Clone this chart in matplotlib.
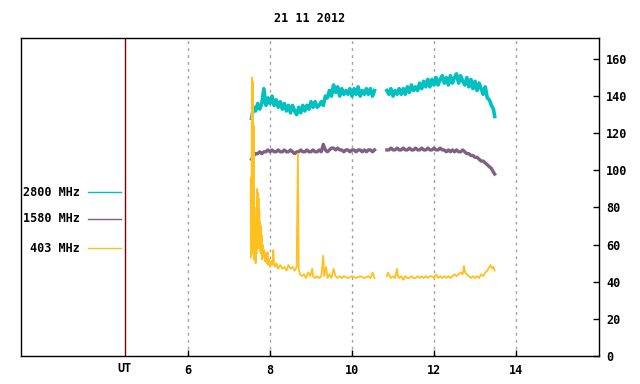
import matplotlib
matplotlib.use("Agg")
import matplotlib.pyplot as plt
from matplotlib.lines import Line2D

title = "21 11 2012"
labels = ["2800 MHz", "1580 MHz", "403 MHz"]
colors = ["#00c0c0", "#806080", "#ffc020"]
xticks = [6, 8, 10, 12, 14]
yticks = [0, 20, 40, 60, 80, 100, 120, 140, 160]

# time (UT hours), first and second block of the day
t_a = [7.55, 7.60, 7.65, 7.70, 7.75, 7.80, 7.85, 7.90, 7.95, 8.00,
       8.05, 8.10, 8.15, 8.20, 8.25, 8.30, 8.35, 8.40, 8.45, 8.50,
       8.55, 8.60, 8.65, 8.70, 8.75, 8.80, 8.85, 8.90, 8.95, 9.00,
       9.05, 9.10, 9.15, 9.20, 9.25, 9.30, 9.35, 9.40, 9.45, 9.50,
       9.55, 9.60, 9.65, 9.70, 9.75, 9.80, 9.85, 9.90, 9.95, 10.00,
       10.05, 10.10, 10.15, 10.20, 10.25, 10.30, 10.35, 10.40, 10.45, 10.50,
       10.55]
t_b = [10.85, 10.90, 10.95, 11.00, 11.05, 11.10, 11.15, 11.20, 11.25, 11.30,
       11.35, 11.40, 11.45, 11.50, 11.55, 11.60, 11.65, 11.70, 11.75, 11.80,
       11.85, 11.90, 11.95, 12.00, 12.05, 12.10, 12.15, 12.20, 12.25, 12.30,
       12.35, 12.40, 12.45, 12.50, 12.55, 12.60, 12.65, 12.70, 12.75, 12.80,
       12.85, 12.90, 12.95, 13.00, 13.05, 13.10, 13.15, 13.20, 13.25, 13.30,
       13.35, 13.40, 13.45, 13.48]

f2800_a = [128, 134, 132, 136, 133, 136, 144, 135, 139, 136,
           140, 135, 138, 134, 137, 133, 136, 132, 135, 131,
           135, 132, 130, 134, 131, 135, 132, 135, 133, 137,
           134, 137, 134, 135, 137, 135, 140, 139, 143, 140,
           146, 142, 145, 140, 144, 141, 143, 141, 144, 140,
           144, 141, 145, 140, 143, 141, 144, 141, 144, 140,
           143]
f2800_b = [143, 141, 144, 140, 143, 141, 144, 141, 144, 141,
           145, 142, 146, 143, 145, 143, 147, 144, 148, 145,
           149, 145, 149, 146, 150, 146, 149, 151, 147, 150,
           146, 151, 147, 150, 152, 147, 151, 148, 146, 150,
           145, 149, 144, 148, 143, 147, 144, 141, 145, 139,
           138, 135, 133, 129]

f1580_a = [106, 108, 109, 109, 110, 109, 110, 110, 111, 110,
           111, 110, 110, 111, 110, 110, 111, 110, 110, 111,
           110, 109, 110, 110, 111, 110, 110, 111, 110, 110,
           111, 110, 110, 111, 110, 114, 111, 110, 111, 112,
           112, 111, 112, 111, 111, 110, 111, 111, 110, 111,
           111, 110, 111, 111, 110, 111, 110, 111, 111, 110,
           111]
f1580_b = [111, 111, 112, 111, 111, 112, 111, 111, 112, 111,
           111, 112, 111, 111, 112, 111, 111, 112, 111, 111,
           112, 111, 111, 112, 111, 111, 112, 111, 111, 110,
           111, 110, 111, 110, 111, 110, 110, 111, 110, 109,
           109, 108, 108, 107, 107, 106, 105, 105, 104, 103,
           102, 101, 99, 98]

t403_a = [7.530, 7.535, 7.545, 7.560, 7.570, 7.580, 7.590, 7.600, 7.610, 7.620,
          7.630, 7.640, 7.650, 7.660, 7.670, 7.680, 7.690, 7.700, 7.710, 7.720,
          7.730, 7.740, 7.750, 7.760, 7.770, 7.780, 7.790, 7.800, 7.810, 7.820,
          7.84, 7.86, 7.88, 7.90, 7.92, 7.94, 7.96, 7.98, 8.00, 8.03,
          8.06, 8.08, 8.10, 8.13, 8.16, 8.20, 8.25, 8.30, 8.35, 8.40,
          8.45, 8.50, 8.55, 8.60, 8.65, 8.68, 8.70, 8.73, 8.78, 8.83,
          8.88, 8.93, 8.98, 9.03, 9.05, 9.10, 9.15, 9.20, 9.25, 9.30,
          9.32, 9.37, 9.40, 9.45, 9.50, 9.55, 9.60, 9.65, 9.70, 9.75,
          9.80, 9.90, 10.00, 10.10, 10.20, 10.30, 10.40, 10.45, 10.50, 10.55]
f403_a = [96, 53, 60, 150, 70, 148, 55, 124, 52, 80,
          58, 75, 50, 70, 55, 90, 60, 88, 58, 85,
          62, 78, 58, 72, 56, 70, 55, 65, 52, 60,
          53, 57, 51, 55, 50, 56, 49, 52, 48, 51,
          49, 57, 50, 48, 50, 47, 49, 47, 48, 46,
          49, 47, 48, 46, 48, 109, 47, 44, 43, 44,
          42, 45, 43, 47, 43, 42, 43, 42, 43, 54,
          43, 48, 42, 44, 42, 47, 43, 42, 43, 42,
          43, 42, 43, 42, 43, 42, 43, 42, 45, 42]
t403_b = [10.85, 10.88, 10.92, 10.95, 11.00, 11.05, 11.10, 11.12, 11.15, 11.20,
          11.25, 11.30, 11.35, 11.40, 11.45, 11.50, 11.55, 11.60, 11.65, 11.70,
          11.75, 11.80, 11.85, 11.90, 11.95, 12.00, 12.05, 12.10, 12.15, 12.20,
          12.25, 12.30, 12.35, 12.40, 12.45, 12.50, 12.55, 12.60, 12.65, 12.70,
          12.73, 12.76, 12.80, 12.85, 12.90, 12.95, 13.00, 13.05, 13.10, 13.15,
          13.20, 13.25, 13.30, 13.35, 13.38, 13.42, 13.45, 13.48]
f403_b = [43, 45, 43, 42, 43, 42, 47, 43, 42, 43,
          41, 43, 42, 42, 43, 42, 42, 43, 42, 43,
          42, 43, 42, 43, 43, 42, 44, 42, 43, 42,
          43, 42, 43, 42, 43, 44, 43, 44, 45, 44,
          48.5, 45, 44, 43, 42, 43, 42, 43, 42, 44,
          43, 45, 46, 48, 49, 47, 48, 46]

plt.rcParams['font.family'] = ['DejaVu Sans Mono']
plt.rcParams['font.weight'] = 'bold'
plt.rcParams['font.size'] = 8.5

W, H = 640, 384
fig = plt.figure(figsize=(W / 100, H / 100), dpi=100)
ax = fig.add_axes([20.5 / W, 28 / H, (599 - 20.5) / W, (356 - 38) / H])

# noisy data shows up as a band in the original, so thicker lines
widths = [2.6, 2.4, 1.3]
series = [(t_a, f2800_a, t_b, f2800_b), (t_a, f1580_a, t_b, f1580_b),
          (t403_a, f403_a, t403_b, f403_b)]
for (ta, ya, tb, yb), c, lw in zip(series, colors, widths):
    ax.plot(ta, ya, color=c, lw=lw, zorder=3)
    ax.plot(tb, yb, color=c, lw=lw, zorder=3)

ax.set_xlim(1.915, 16.024)
ax.set_ylim(0, 171.3)
ax.set_xticks(xticks)
ax.set_yticks(yticks)
ax.yaxis.tick_right()
ax.tick_params(axis='both', direction='in', length=4, width=1, color='black',
               labelsize=8.5)
ax.tick_params(axis='x', pad=6)
ax.tick_params(axis='y', pad=5)
for x in xticks:
    ax.axvline(x, color='#a0a0a0', lw=1, ls=(0, (2, 3)), zorder=1)
for s in ax.spines.values():
    s.set_linewidth(1)

# UT marker line
ax.axvline(4.463, color='#800000', lw=1, zorder=2)
fig.text(125 / W, 1 - 368 / H, "UT", ha='center', va='center')

fig.text(310 / W, 1 - 19 / H, title, ha='center', va='center')

# legend on the left side
for lab, c, y in zip(labels, colors, [192, 219, 248]):
    fig.text(80 / W, 1 - y / H, lab, ha='right', va='center')
    fig.add_artist(Line2D([88 / W, 121 / W], [1 - y / H, 1 - y / H],
                          color=c, lw=1.0))

fig.savefig("out.png", dpi=100)
